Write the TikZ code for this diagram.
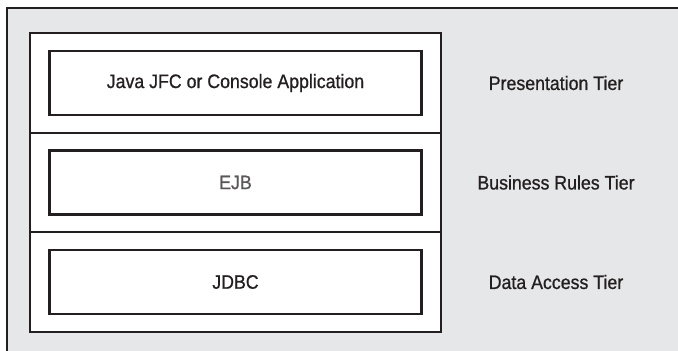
\documentclass[tikz,border=0pt]{standalone}
\usepackage{fontspec}
\setmainfont{Liberation Sans}[FakeStretch=0.91,FakeBold=0.8]
\usepackage{tikz}
\usetikzlibrary{positioning}
\definecolor{panel}{HTML}{E6E7E8}
\definecolor{ink}{HTML}{231F20}

\begin{document}
\begin{tikzpicture}[x=1pt,y=-1pt,
  font=\fontsize{19.5}{23}\selectfont,
  tier/.style={rectangle,draw=ink,line width=1.8pt,fill=white,
    minimum width=411pt,minimum height=99.5pt,outer sep=0pt,inner sep=0pt},
  part box/.style={rectangle,draw=ink,line width=2.2pt,fill=white,
    minimum width=372pt,minimum height=64pt,outer sep=0pt,text=ink},
  tier label/.style={text=ink}]
  \useasboundingbox (0,0) rectangle (678,351);
  \fill[white] (0,0) rectangle (678,351);
  \draw[ink,line width=2.2pt,fill=panel] (7,8) rectangle (700,370);
  % the three tiers
  \node[tier] (pres) at (235.5,83) {};
  \node[tier] (bus) [below=0pt of pres] {};
  \node[tier] (data) [below=0pt of bus] {};
  % what runs in each tier
  \node[part box] (app) at (pres.center) {Java JFC or Console Application};
  \node[part box,text=ink!75] (ejb) at (bus.center) {EJB};
  \node[part box] (jdbc) at (data.center) {JDBC};
  % names of the tiers
  \node[tier label] (presname) at (556,83) {Presentation Tier};
  \node[tier label] (busname) at (presname |- bus) {Business Rules Tier};
  \node[tier label] (dataname) at (presname |- data) {Data Access Tier};
\end{tikzpicture}
\end{document}
